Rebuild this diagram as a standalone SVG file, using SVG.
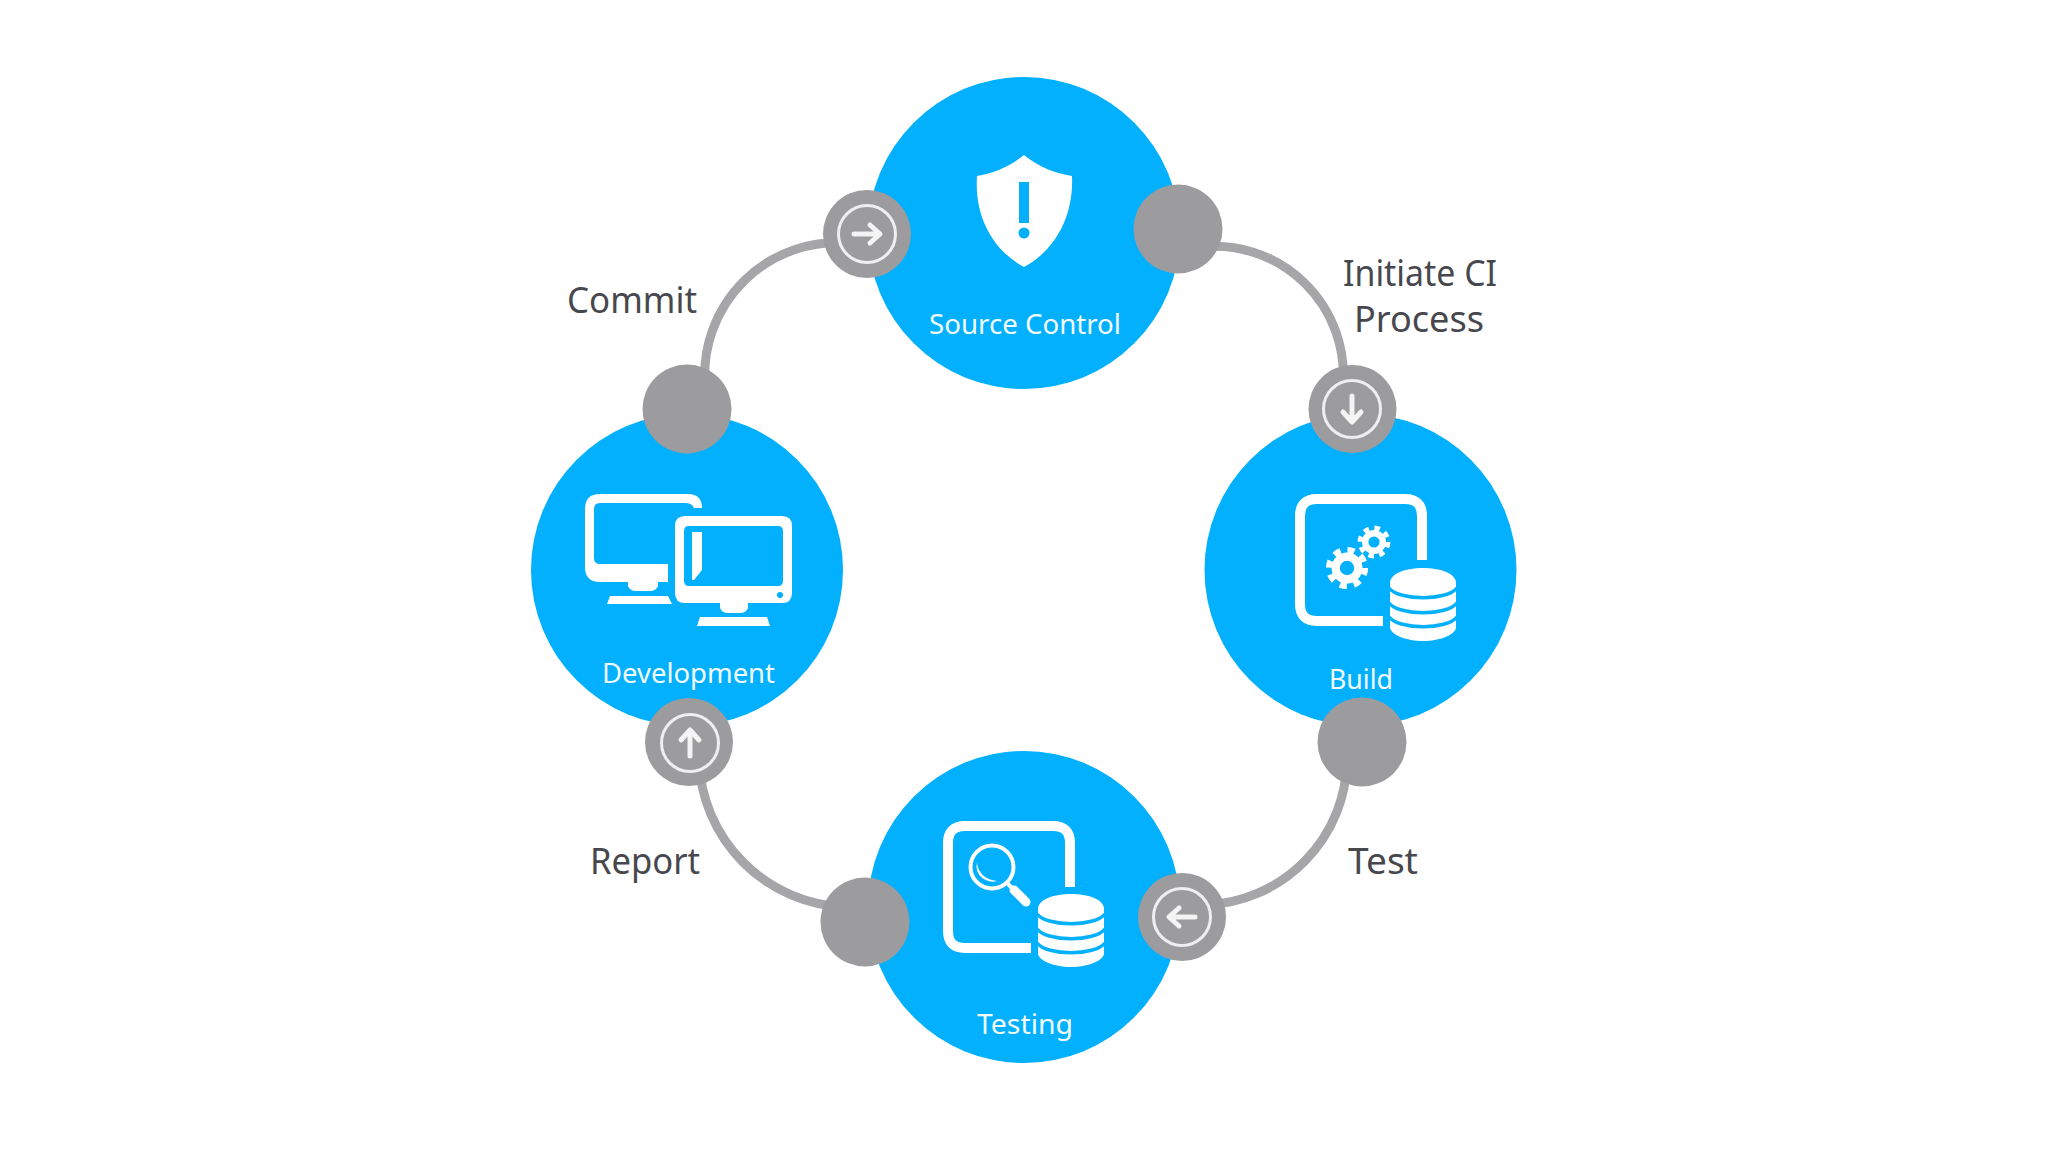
<svg xmlns="http://www.w3.org/2000/svg" width="2048" height="1152" viewBox="0 0 2048 1152">
<style>
text{font-family:"Noto Sans","Liberation Sans",sans-serif}
.n{fill:#02b0fe}
.p{fill:#9c9b9d}
.c{fill:none;stroke:#a6a6a8;stroke-width:9}
.i{fill:#f2fbff;font-size:28px;text-anchor:start}
.o{fill:#47484e;font-size:36px}
.w{fill:#fff}
.ring{fill:none;stroke:#efefef;stroke-width:3}
.arr{fill:none;stroke:#f4f4f4;stroke-width:5;stroke-linecap:round;stroke-linejoin:round}
</style>
<defs>
<g id="arrow"><circle class="ring" r="28.5"/><path class="arr" d="M-13 0H12M3-9L13 0L3 9"/></g>
<g id="db">
<path class="w" d="M-33 15C-33 5-16 0 0 0S33 5 33 15V59C33 67 16 73 0 73S-33 67-33 59Z"/>
<path d="M-34 20C-24 33 24 33 34 20M-34 35C-24 48 24 48 34 35M-34 49C-24 62 24 62 34 49" fill="none" stroke="#02b0fe" stroke-width="3.5"/>
</g>
<path id="frame" d="M1422 560V516Q1422 499 1405 499H1317Q1300 499 1300 516V604Q1300 621 1317 621H1383" fill="none" stroke="#fff" stroke-width="10"/>
<g id="gear">
<circle r="11" fill="none" stroke="#fff" stroke-width="8"/>
<circle r="17" fill="none" stroke="#fff" stroke-width="7" stroke-dasharray="6.68 6.67"/>
</g>
</defs>
<rect width="2048" height="1152" fill="#fff"/>
<g id="connectors">
<path class="c" d="M850 243A133 133 0 0 0 705 385"/>
<path class="c" d="M1200 247A129 129 0 0 1 1343 385"/>
<path class="c" d="M1347 760A147 147 0 0 1 1205 905"/>
<path class="c" d="M699 760A152 152 0 0 0 845 907"/>
</g>
<g id="node-source-control">
<circle class="n" cx="1024" cy="233" r="156"/>
<path class="w" d="M1024 155C1040 168 1055 173 1072 176C1074 220 1052 252 1024 267C996 252 974 220 977 176C993 173 1008 168 1024 155Z"/>
<rect x="1019" y="182" width="10" height="41" fill="#02b0fe"/>
<circle cx="1024" cy="233" r="5.500" fill="#02b0fe"/>
<text class="i" x="929" y="334" textLength="192" lengthAdjust="spacingAndGlyphs">Source Control</text>
</g>
<g id="node-build">
<circle class="n" cx="1360.500" cy="570" r="156"/>
<use href="#frame"/>
<use href="#gear" transform="translate(1347 568) scale(1.030)"/>
<use href="#gear" transform="translate(1374 542) scale(.800)"/>
<use href="#db" transform="translate(1423 568)"/>
<text class="i" x="1329" y="689" textLength="64" lengthAdjust="spacingAndGlyphs">Build</text>
</g>
<g id="node-testing">
<circle class="n" cx="1024" cy="907" r="156"/>
<use href="#frame" transform="translate(-352 327)"/>
<circle cx="992" cy="867" r="21.500" fill="none" stroke="#fff" stroke-width="4"/>
<path d="M977 863C978 873 986 880 997 881C988 884 974 876 977 863Z" class="w"/>
<path d="M1007 883L1014 890" stroke="#fff" stroke-width="4"/>
<path d="M1014 890L1026 902" stroke="#fff" stroke-width="9" stroke-linecap="round"/>
<use href="#db" transform="translate(1071 894)"/>
<text class="i" x="977" y="1034" textLength="96" lengthAdjust="spacingAndGlyphs">Testing</text>
</g>
<g id="node-development">
<circle class="n" cx="687" cy="570" r="156"/>
<path class="w" d="M600 494H688Q702 494 702 508H694Q692 503 685 503H600Q594 503 594 509V558Q594 564 600 564H668V582H600Q585 582 585 567V509Q585 494 600 494Z"/>
<path class="w" d="M628 582H658V586Q656 591 650 591H636Q630 591 628 586Z"/>
<path class="w" d="M610 596H668L672 604H607Z"/>
<path class="w" fill-rule="evenodd" d="M685 516H782Q792 516 792 526V593Q792 603 782 603H685Q675 603 675 593V526Q675 516 685 516ZM689 526Q684 526 684 531V581Q684 586 689 586H778Q783 586 783 581V531Q783 526 778 526Z"/>
<circle cx="780" cy="595" r="3" fill="#02b0fe"/>
<path class="w" d="M720 603H748V608Q746 613 740 613H728Q722 613 720 608Z"/>
<path class="w" d="M700 617H767L770 626H697Z"/>
<path class="w" d="M692 532H702V570L694 580H692Z"/>
<text class="i" x="602" y="683" textLength="173" lengthAdjust="spacingAndGlyphs">Development</text>
</g>
<g id="port-commit"><circle class="p" cx="867" cy="234" r="44"/><use href="#arrow" transform="translate(867 234)"/></g>
<g id="port-source-out"><circle class="p" cx="1178" cy="229" r="44.500"/></g>
<g id="port-build-in"><circle class="p" cx="1352.500" cy="409" r="44"/><use href="#arrow" transform="translate(1352 409) rotate(90)"/></g>
<g id="port-build-out"><circle class="p" cx="1362" cy="742" r="44.500"/></g>
<g id="port-testing-in"><circle class="p" cx="1182" cy="917" r="44"/><use href="#arrow" transform="translate(1182 917) rotate(180)"/></g>
<g id="port-testing-out"><circle class="p" cx="865" cy="922" r="44.500"/></g>
<g id="port-dev-in"><circle class="p" cx="689" cy="742" r="44"/><use href="#arrow" transform="translate(690 743) rotate(-90)"/></g>
<g id="port-dev-out"><circle class="p" cx="687" cy="409" r="44.500"/></g>
<g id="labels">
<text class="o" x="567" y="313" textLength="130" lengthAdjust="spacingAndGlyphs">Commit</text>
<text class="o" x="1343" y="286" textLength="154" lengthAdjust="spacingAndGlyphs">Initiate CI</text>
<text class="o" x="1354" y="332" textLength="130" lengthAdjust="spacingAndGlyphs">Process</text>
<text class="o" x="590" y="874" textLength="110" lengthAdjust="spacingAndGlyphs">Report</text>
<text class="o" x="1348" y="874" textLength="70" lengthAdjust="spacingAndGlyphs">Test</text>
</g>
</svg>
